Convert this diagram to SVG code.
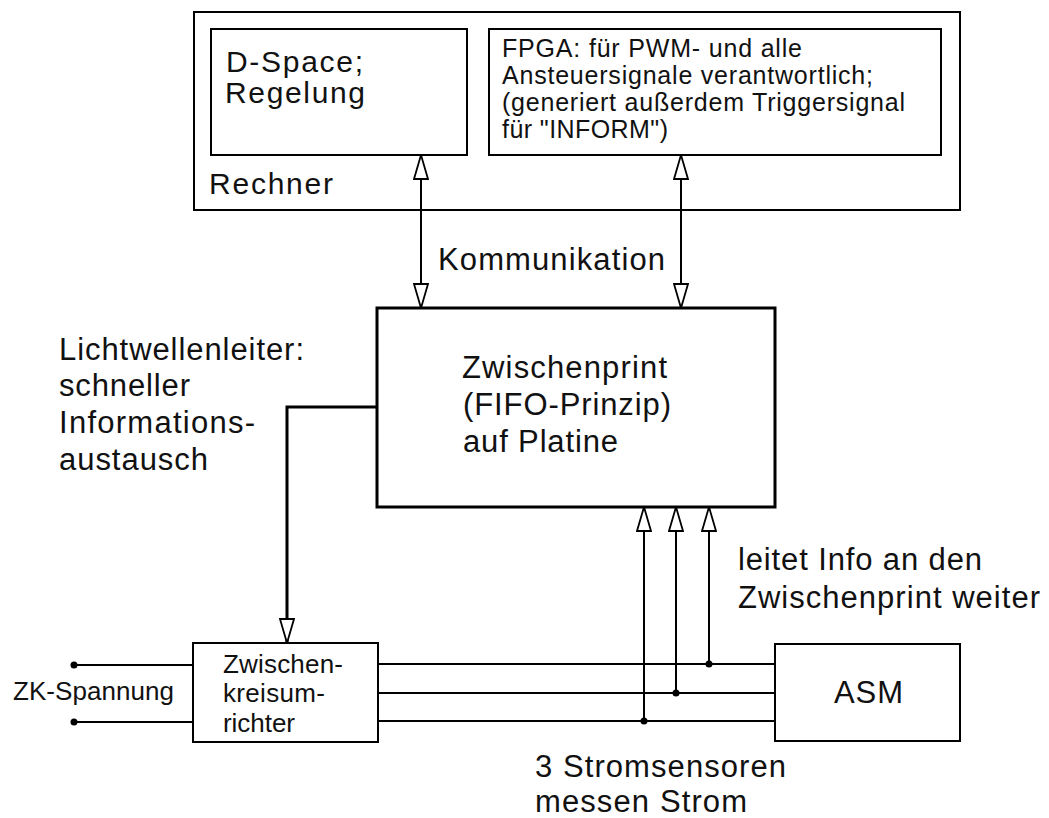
<svg xmlns="http://www.w3.org/2000/svg" width="1049" height="818" viewBox="0 0 1049 818">
<style>
.box{fill:#fff;stroke:#000;stroke-width:2}
.thick{stroke-width:3}
.ln{fill:none;stroke:#000;stroke-width:2}
.t{font-family:"Liberation Sans",Arial,sans-serif;fill:#111}
.big{font-size:31px}
.mid{font-size:30px}
.sm{font-size:26px}
.xs{font-size:25px}
</style>
<defs>
<marker id="ah" viewBox="0 0 26 16" refX="25" refY="8" markerWidth="26" markerHeight="16" markerUnits="userSpaceOnUse" orient="auto-start-reverse">
<path d="M1,1 L25,8 L1,15 Z" fill="#fff" stroke="#000" stroke-width="1.8"/>
</marker>
</defs>
<rect width="1049" height="818" fill="#fff"/>

<g id="rechner">
<rect class="box" x="194" y="12" width="766" height="198"/>
<text class="t mid" x="209" y="194" textLength="124" lengthAdjust="spacing">Rechner</text>
</g>
<g id="dspace">
<rect class="box" x="211" y="29" width="256" height="126"/>
<text class="t mid" x="226" y="72" textLength="137" lengthAdjust="spacing">D-Space;</text>
<text class="t mid" x="225" y="103" textLength="140" lengthAdjust="spacing">Regelung</text>
</g>
<g id="fpga">
<rect class="box" x="489" y="29" width="452" height="126"/>
<text class="t xs" x="502" y="57" textLength="300" lengthAdjust="spacing">FPGA: für PWM- und alle</text>
<text class="t xs" x="502" y="84" textLength="371" lengthAdjust="spacing">Ansteuersignale verantwortlich;</text>
<text class="t xs" x="502" y="111" textLength="403" lengthAdjust="spacing">(generiert außerdem Triggersignal</text>
<text class="t xs" x="502" y="138" textLength="166" lengthAdjust="spacing">für "INFORM")</text>
</g>
<g id="zwischenprint">
<rect class="box thick" x="377" y="308" width="398" height="199"/>
<text class="t big" x="462" y="378" textLength="205" lengthAdjust="spacing">Zwischenprint</text>
<text class="t big" x="463" y="415" textLength="208" lengthAdjust="spacing">(FIFO-Prinzip)</text>
<text class="t big" x="463" y="452" textLength="155" lengthAdjust="spacing">auf Platine</text>
</g>
<g id="zwischenkreis">
<rect class="box" x="193" y="643" width="185" height="99"/>
<text class="t sm" x="223" y="673" textLength="120" lengthAdjust="spacing">Zwischen-</text>
<text class="t sm" x="223" y="702" textLength="102" lengthAdjust="spacing">kreisum-</text>
<text class="t sm" x="223" y="732" textLength="72" lengthAdjust="spacing">richter</text>
</g>
<g id="asm">
<rect class="box" x="775" y="644" width="185" height="97"/>
<text class="t big" x="834" y="703" textLength="69" lengthAdjust="spacing">ASM</text>
</g>

<g id="connectors">
<line class="ln" x1="421" y1="155" x2="421" y2="308" marker-start="url(#ah)" marker-end="url(#ah)"/>
<line class="ln" x1="681" y1="155" x2="681" y2="308" marker-start="url(#ah)" marker-end="url(#ah)"/>
<path class="ln" style="stroke-width:3" d="M377,407 H287 V643" marker-end="url(#ah)"/>
<line class="ln" x1="74" y1="665" x2="193" y2="665"/>
<line class="ln" x1="74" y1="722" x2="193" y2="722"/>
<line class="ln" x1="378" y1="664" x2="775" y2="664"/>
<line class="ln" x1="378" y1="693" x2="775" y2="693"/>
<line class="ln" x1="378" y1="721" x2="775" y2="721"/>
<line class="ln" x1="644" y1="721" x2="644" y2="507" marker-end="url(#ah)"/>
<line class="ln" x1="676" y1="693" x2="676" y2="507" marker-end="url(#ah)"/>
<line class="ln" x1="709" y1="664" x2="709" y2="507" marker-end="url(#ah)"/>
<circle cx="74" cy="665" r="3.5"/>
<circle cx="74" cy="722" r="3.5"/>
<circle cx="709" cy="664" r="3.5"/>
<circle cx="676" cy="693" r="3.5"/>
<circle cx="644" cy="721" r="3.5"/>
</g>

<g id="labels">
<text class="t big" x="438" y="270" textLength="227" lengthAdjust="spacing">Kommunikation</text>
<text class="t big" x="59" y="360" textLength="245" lengthAdjust="spacing">Lichtwellenleiter:</text>
<text class="t big" x="59" y="396" textLength="131" lengthAdjust="spacing">schneller</text>
<text class="t big" x="59" y="433" textLength="196" lengthAdjust="spacing">Informations-</text>
<text class="t big" x="59" y="470" textLength="149" lengthAdjust="spacing">austausch</text>
<text class="t big" x="738" y="570" textLength="244" lengthAdjust="spacing">leitet Info an den</text>
<text class="t big" x="738" y="608" textLength="302" lengthAdjust="spacing">Zwischenprint weiter</text>
<text class="t sm" x="13" y="700" textLength="161" lengthAdjust="spacing">ZK-Spannung</text>
<text class="t big" x="535" y="777" textLength="251" lengthAdjust="spacing">3 Stromsensoren</text>
<text class="t big" x="535" y="812" textLength="212" lengthAdjust="spacing">messen Strom</text>
</g>
</svg>
